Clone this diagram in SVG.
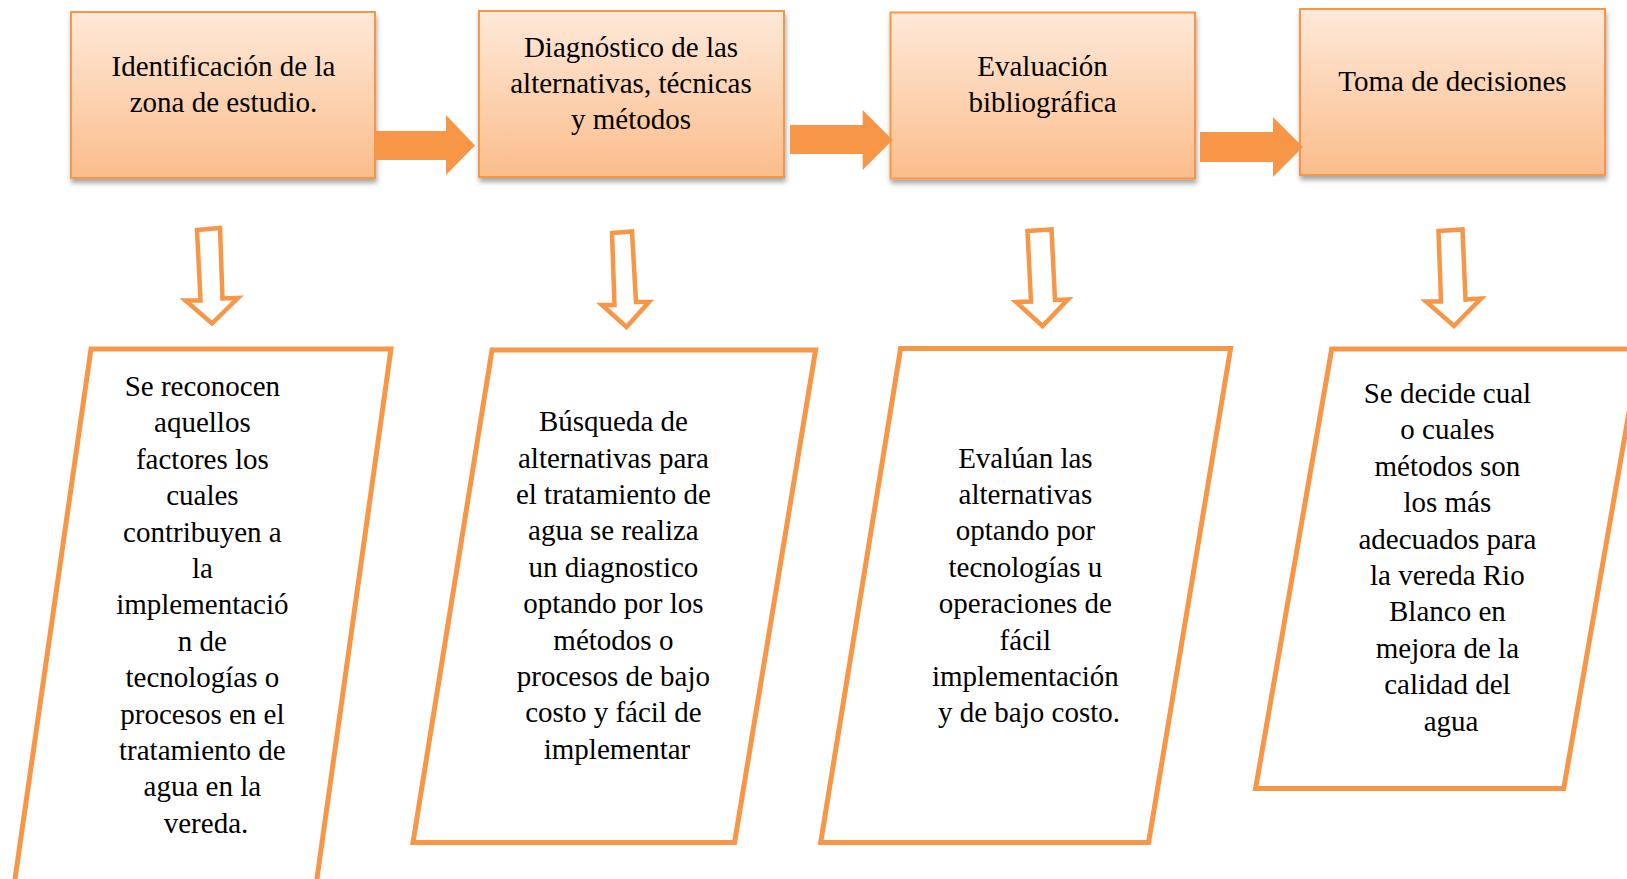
<svg xmlns="http://www.w3.org/2000/svg" width="1627" height="879" viewBox="0 0 1627 879">
<style>
.box{fill:url(#boxGrad);stroke:#F79646;stroke-width:2;filter:url(#shadow)}
.t{font-family:"Liberation Serif","Times New Roman",serif;font-size:29px;fill:#000;text-anchor:middle}
.para{fill:#fff;stroke:#F79646;stroke-width:5;stroke-linejoin:miter}
.rarrow{fill:#F79646}
.darrow{fill:#fff;stroke:#F79646;stroke-width:4.5;stroke-linejoin:miter}
</style>
<defs>
<linearGradient id="boxGrad" x1="0" y1="0" x2="0" y2="1">
<stop offset="0" stop-color="#FEE9D9"/>
<stop offset="1" stop-color="#FBBD8B"/>
</linearGradient>
<filter id="shadow" x="-10%" y="-10%" width="130%" height="130%">
<feDropShadow dx="1" dy="4" stdDeviation="2.5" flood-color="#000" flood-opacity="0.35"/>
</filter>
</defs>
<rect width="1627" height="879" fill="#fff"/>

<g id="node-identificacion">
<rect class="box" x="71" y="12" width="304" height="166"/>
<text class="t"><tspan x="223.5" y="75.5">Identificación de la</tspan><tspan x="223.5" y="111.8">zona de estudio.</tspan></text>
</g>
<g id="node-diagnostico">
<rect class="box" x="479" y="11" width="305" height="166"/>
<text class="t"><tspan x="631" y="56.7">Diagnóstico de las</tspan><tspan x="631" y="93">alternativas, técnicas</tspan><tspan x="631" y="129.3">y métodos</tspan></text>
</g>
<g id="node-evaluacion">
<rect class="box" x="890.5" y="12.5" width="304.5" height="166"/>
<text class="t"><tspan x="1042.5" y="75.5">Evaluación</tspan><tspan x="1042.5" y="111.8">bibliográfica</tspan></text>
</g>
<g id="node-toma">
<rect class="box" x="1300" y="9" width="305" height="166"/>
<text class="t"><tspan x="1452.5" y="91">Toma de decisiones</tspan></text>
</g>

<g id="connectors">
<polygon class="rarrow" points="375,131 446,131 446,115 475,145.5 446,175 446,160 375,160"/>
<polygon class="rarrow" points="790,125 862.7,125 862.7,110 892.7,140 862.7,170 862.7,154 790,154"/>
<polygon class="rarrow" points="1200,132 1273,132 1273,117 1303,147 1273,177 1273,162 1200,162"/>
<polygon class="darrow" points="197,230 220,228 222.5,298.5 238,298 212,323.5 185.5,300.5 200.5,300.5"/>
<polygon class="darrow" points="612,233 632,231.5 636,302 649,302 626.5,327 602,305 614.5,305"/>
<polygon class="darrow" points="1027.5,231 1051.5,229.5 1055,300 1068,299.5 1042.5,326 1016,302 1031,301.5"/>
<polygon class="darrow" points="1438.5,231 1462.5,229.5 1465.5,299.5 1481,298.5 1454,326 1426,301.5 1441,301.5"/>
</g>

<g id="node-reconocen">
<polygon class="para" points="91,349 391,349 314,900 12,900"/>
<text class="t">
<tspan x="206" y="396">Se reconocen</tspan>
<tspan x="206" y="432.4">aquellos</tspan>
<tspan x="206" y="468.8">factores los</tspan>
<tspan x="206" y="505.2">cuales</tspan>
<tspan x="206" y="541.6">contribuyen a</tspan>
<tspan x="206" y="578">la</tspan>
<tspan x="206" y="614.4">implementació</tspan>
<tspan x="206" y="650.8">n de</tspan>
<tspan x="206" y="687.2">tecnologías o</tspan>
<tspan x="206" y="723.6">procesos en el</tspan>
<tspan x="206" y="760">tratamiento de</tspan>
<tspan x="206" y="796.4">agua en la</tspan>
<tspan x="206" y="832.8">vereda.</tspan>
</text>
</g>
<g id="node-busqueda">
<polygon class="para" points="492,350 815.6,350 734.6,842.5 413,842.5"/>
<text class="t">
<tspan x="617" y="431.2">Búsqueda de</tspan>
<tspan x="617" y="467.6">alternativas para</tspan>
<tspan x="617" y="504">el tratamiento de</tspan>
<tspan x="617" y="540.4">agua se realiza</tspan>
<tspan x="617" y="576.8">un diagnostico</tspan>
<tspan x="617" y="613.2">optando por los</tspan>
<tspan x="617" y="649.6">métodos o</tspan>
<tspan x="617" y="686">procesos de bajo</tspan>
<tspan x="617" y="722.4">costo y fácil de</tspan>
<tspan x="617" y="758.8">implementar</tspan>
</text>
</g>
<g id="node-evaluan">
<polygon class="para" points="900.6,348.6 1230.6,348.6 1148.6,842.5 820.7,842.5"/>
<text class="t">
<tspan x="1029" y="467.5">Evalúan las</tspan>
<tspan x="1029" y="503.9">alternativas</tspan>
<tspan x="1029" y="540.3">optando por</tspan>
<tspan x="1029" y="576.7">tecnologías u</tspan>
<tspan x="1029" y="613.1">operaciones de</tspan>
<tspan x="1029" y="649.5">fácil</tspan>
<tspan x="1029" y="685.9">implementación</tspan>
<tspan x="1029" y="722.3">y de bajo costo.</tspan>
</text>
</g>
<g id="node-decide">
<polygon class="para" points="1331.7,349 1640,349 1563.7,788.6 1255.6,788.6"/>
<text class="t">
<tspan x="1451" y="403">Se decide cual</tspan>
<tspan x="1451" y="439.4">o cuales</tspan>
<tspan x="1451" y="475.8">métodos son</tspan>
<tspan x="1451" y="512.2">los más</tspan>
<tspan x="1451" y="548.6">adecuados para</tspan>
<tspan x="1451" y="585">la vereda Rio</tspan>
<tspan x="1451" y="621.4">Blanco en</tspan>
<tspan x="1451" y="657.8">mejora de la</tspan>
<tspan x="1451" y="694.2">calidad del</tspan>
<tspan x="1451" y="730.6">agua</tspan>
</text>
</g>
</svg>
